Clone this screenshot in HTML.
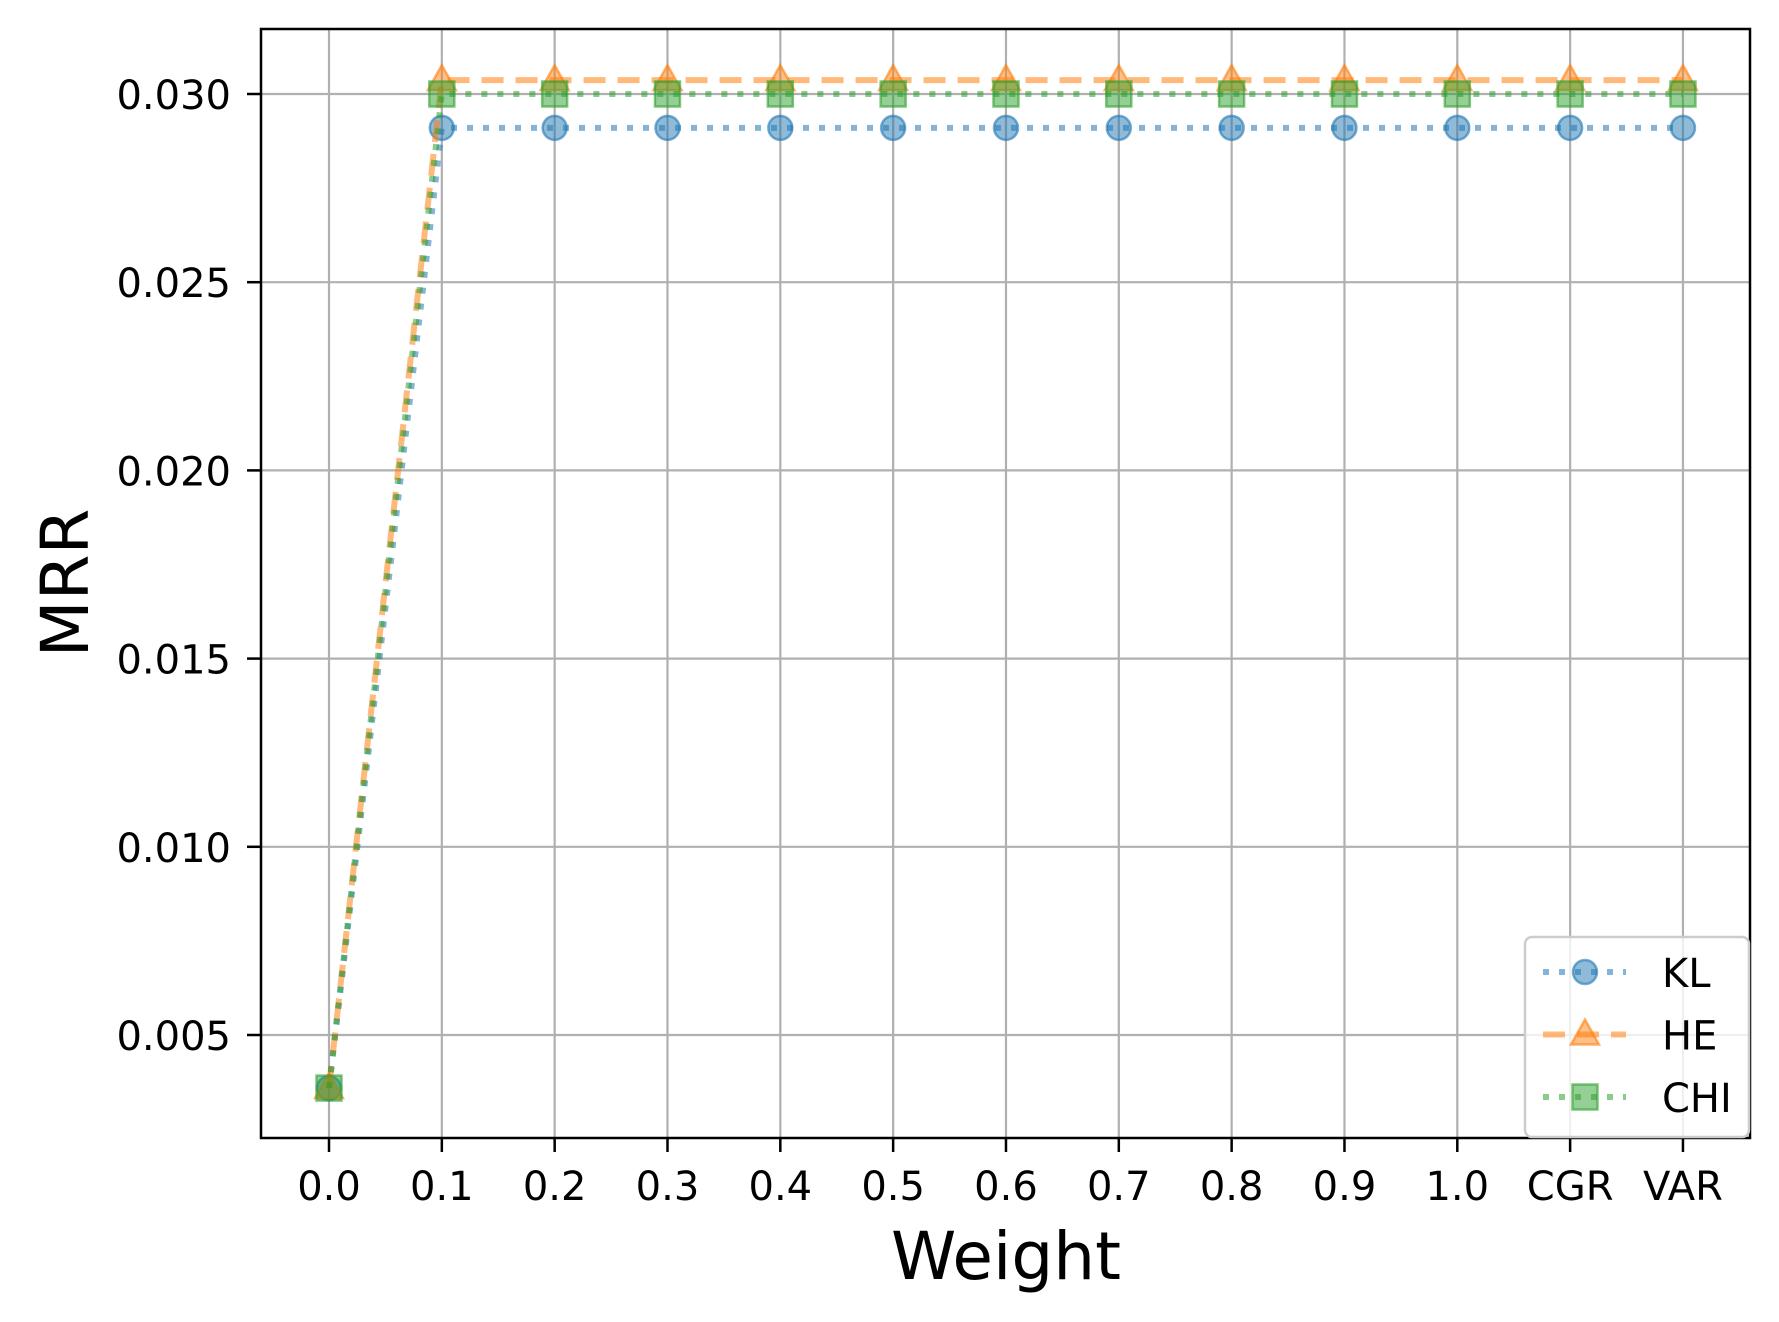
<!DOCTYPE html>
<html><head><meta charset="utf-8"><style>
html,body{margin:0;padding:0;background:#fff;}
svg{display:block;font-family:"DejaVu Sans","Liberation Sans",sans-serif;}
</style></head><body>
<svg id="chart" width="1779" height="1322" viewBox="0 0 1779 1322" xmlns="http://www.w3.org/2000/svg">
<g id="grid"></g>
<g id="series"></g>
<rect x="261" y="29" width="1489" height="1109" fill="none" stroke="#000" stroke-width="2.5"/>
<g id="ticks"></g>
<text x="1006" y="1279" font-size="66" text-anchor="middle">Weight</text>
<text x="0" y="0" font-size="66" text-anchor="middle" transform="translate(88,583) rotate(-90)">MRR</text>
<g id="legend"></g>
</svg>
<script>
const categories = ["0.0","0.1","0.2","0.3","0.4","0.5","0.6","0.7","0.8","0.9","1.0","CGR","VAR"];
const klValues  = [0.00359,0.0291,0.0291,0.0291,0.0291,0.0291,0.0291,0.0291,0.0291,0.0291,0.0291,0.0291,0.0291];
const heValues  = [0.00359,0.03037,0.03037,0.03037,0.03037,0.03037,0.03037,0.03037,0.03037,0.03037,0.03037,0.03037,0.03037];
const chiValues = [0.00359,0.0300,0.0300,0.0300,0.0300,0.0300,0.0300,0.0300,0.0300,0.0300,0.0300,0.0300,0.0300];
const yTicks = [0.005,0.010,0.015,0.020,0.025,0.030];
const yTickLabels = ["0.005","0.010","0.015","0.020","0.025","0.030"];
const seriesNames = ["KL","HE","CHI"];

const NS="http://www.w3.org/2000/svg";
const X0=329, DX=112.83;
function xs(i){return X0+i*DX;}
function ys(v){return 1035-(v-0.005)/0.005*188.2;}
function mk(tag,attrs,parent){const e=document.createElementNS(NS,tag);for(const k in attrs)e.setAttribute(k,attrs[k]);parent.appendChild(e);return e;}
const grid=document.getElementById('grid'), ticks=document.getElementById('ticks'), ser=document.getElementById('series'), leg=document.getElementById('legend');

categories.forEach((c,i)=>{
  const x=xs(i);
  const g=mk('line',{x1:x,x2:x,y1:29,y2:1138,stroke:'#b0b0b0','stroke-width':2.2},grid);
  
  
  const t=mk('line',{x1:x,x2:x,y1:1138,y2:1152,stroke:'#000','stroke-width':2.5},ticks);
  
  
  const l=mk('text',{x:x,y:1200,'font-size':40,'text-anchor':'middle'},ticks);
  l.textContent=c;
  
  
});
yTicks.forEach((v,i)=>{
  const y=ys(v);
  const g=mk('line',{x1:261,x2:1750,y1:y,y2:y,stroke:'#b0b0b0','stroke-width':2.2},grid);
  
  
  const t=mk('line',{x1:247,x2:261,y1:y,y2:y,stroke:'#000','stroke-width':2.5},ticks);
  
  
  const l=mk('text',{x:231,y:y+15,'font-size':40,'text-anchor':'end'},ticks);
  l.textContent=yTickLabels[i];
  
  
});

const colors={KL:'#1f77b4',HE:'#ff7f0e',CHI:'#2ca02c'};
const dashes={KL:'6,10',HE:'22,12',CHI:'6,10'};
function marker(name,x,y,parent){
  let e;
  if(name==='KL') e=mk('circle',{cx:x,cy:y,r:12},parent);
  else if(name==='HE') e=mk('polygon',{points:`${x},${y-15} ${x+14},${y+10} ${x-14},${y+10}`},parent);
  else e=mk('rect',{x:x-12.5,y:y-12.5,width:25,height:25},parent);
  e.setAttribute('fill',colors[name]);e.setAttribute('fill-opacity','0.5');
  e.setAttribute('stroke',colors[name]);e.setAttribute('stroke-opacity','0.6');e.setAttribute('stroke-width','2.5');
  return e;
}
const data={KL:klValues,HE:heValues,CHI:chiValues};
seriesNames.forEach(n=>{
  const g=mk('g',{},ser);
  
  
  const pts=data[n].map((v,i)=>xs(i)+','+ys(v)).join(' ');
  const pl=mk('polyline',{points:pts,fill:'none',stroke:colors[n],'stroke-opacity':0.55,'stroke-width':6,'stroke-dasharray':dashes[n]},g);
  
  
  data[n].forEach((v,i)=>{
    const m=marker(n,xs(i),ys(v),g);
    
    
  });
});

const box=mk('rect',{x:1525,y:937,width:224,height:200,rx:7,fill:'#fff','fill-opacity':0.8,stroke:'#ccc','stroke-width':2.5},leg);


seriesNames.forEach((n,i)=>{
  const y=972+i*62.5;
  const g=mk('g',{},leg);
  
  
  mk('line',{x1:1543,x2:1626,y1:y,y2:y,stroke:colors[n],'stroke-opacity':0.55,'stroke-width':6,'stroke-dasharray':dashes[n]},g);
  marker(n,1585,y,g);
  const t=mk('text',{x:1662,y:y+15,'font-size':40},g);
  t.textContent=n;
});
</script>
</body></html>
